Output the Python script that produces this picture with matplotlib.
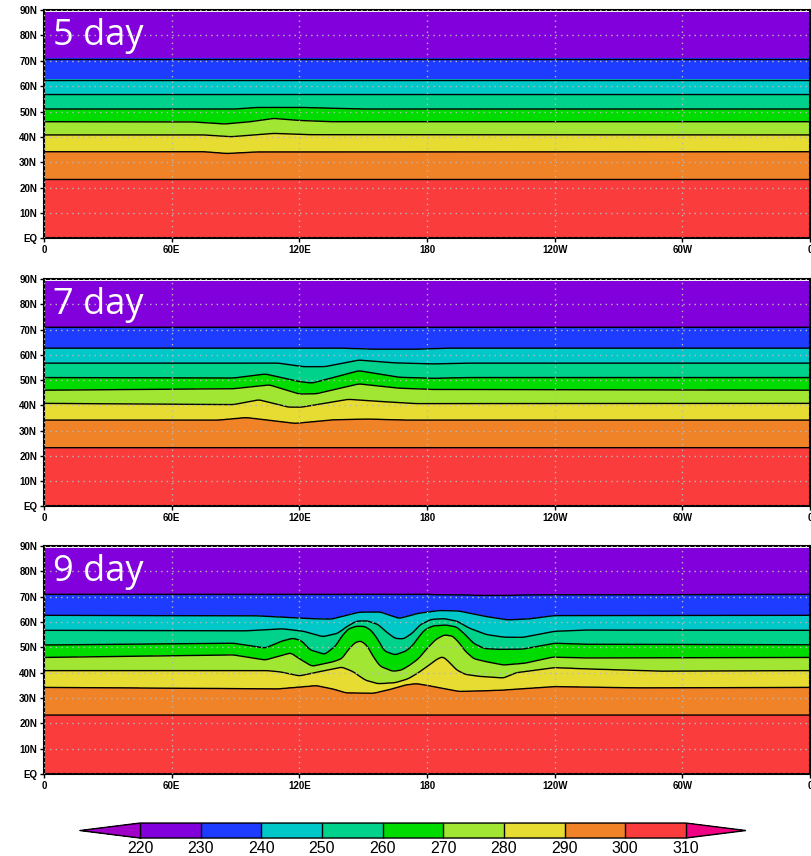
import numpy as np
import matplotlib
matplotlib.use("Agg")
import matplotlib.pyplot as plt
from matplotlib.colors import ListedColormap, BoundaryNorm

# contour levels drawn as lines, and their zonal-mean latitude where flat
line_levels = [230, 240, 250, 260, 270, 280, 290, 300]
base_lat = [70.8, 62.6, 56.7, 51.0, 46.0, 40.8, 34.2, 23.3]

# colour bands (220..310 step 10) + under / over
fill_levels = [220, 230, 240, 250, 260, 270, 280, 290, 300, 310]
fill_colors = ['#8200DC', '#1E3CFF', '#00C8C8', '#00D28C', '#00DC00',
               '#A0E632', '#E6DC32', '#F08228', '#FA3C3C']
under_color = '#A000C8'
over_color = '#F00082'

panel_titles = ['5 day', '7 day', '9 day']
lon_ticks = [0, 60, 120, 180, 240, 300, 360]
lon_labels = ['0', '60E', '120E', '180', '120W', '60W', '0']
lat_ticks = [0, 10, 20, 30, 40, 50, 60, 70, 80, 90]
lat_labels = ['EQ', '10N', '20N', '30N', '40N', '50N', '60N', '70N', '80N', '90N']

# (lon, lat) of a contour line where it departs from the flat position
d5_260 = [(0, 51.0), (90, 51.0), (100, 51.6), (122, 51.6), (140, 51.2), (150, 51.0), (360, 51.0)]
d5_270 = [(0, 46.0), (70, 45.9), (85, 45.1), (97, 46.0), (108, 47.3), (120, 46.5), (135, 46.0), (360, 46.0)]
d5_280 = [(0, 40.8), (75, 40.8), (88, 40.1), (108, 41.4), (125, 40.9), (360, 40.8)]
d5_290 = [(0, 34.2), (75, 34.2), (86, 33.5), (100, 34.1), (360, 34.2)]

d7_240 = [(0, 62.6), (140, 62.6), (155, 62.2), (175, 62.2), (190, 62.6), (360, 62.6)]
d7_250 = [(0, 56.7), (110, 56.7), (122, 55.3), (132, 55.3), (148, 57.9), (165, 56.8), (183, 56.4), (200, 56.7), (360, 56.7)]
d7_260 = [(0, 51.0), (89, 50.8), (104, 52.4), (120, 49.4), (126, 48.8), (148, 53.7), (167, 51.1), (183, 50.7), (200, 51.0), (360, 51.0)]
d7_270 = [(0, 46.0), (89, 46.6), (106, 48.1), (120, 44.5), (128, 44.6), (148, 48.5), (167, 46.8), (183, 46.3), (360, 46.0)]
d7_280 = [(0, 40.8), (89, 40.3), (101, 42.2), (115, 39.3), (121, 39.3), (143, 42.4), (159, 41.5), (175, 40.7), (360, 40.8)]
d7_290 = [(0, 34.2), (82, 34.2), (95, 35.2), (118, 32.9), (136, 34.3), (152, 34.6), (170, 34.2), (360, 34.2)]

d9_230 = [(0, 70.8), (180, 70.8), (210, 70.4), (240, 70.7), (360, 70.8)]
d9_240 = [(0, 62.6), (100, 62.4), (125, 61.3), (135, 61.1), (148, 63.8), (158, 63.9), (167, 61.4), (176, 63.4),
          (186, 64.5), (195, 64.3), (208, 62.1), (218, 60.8), (228, 61.2), (240, 62.5), (360, 62.6)]
d9_250 = [(0, 56.7), (95, 56.5), (112, 57.3), (122, 56.3), (131, 54.2), (138, 55.5), (143, 58.5), (147, 60.3),
          (152, 60.4), (157, 59.0), (161, 56.0), (165, 53.5), (169, 53.3), (173, 55.5), (177, 59.0), (182, 61.0),
          (188, 61.3), (194, 60.3), (200, 57.5), (208, 55.0), (216, 54.0), (225, 53.9), (240, 56.3), (255, 56.8),
          (360, 56.7)]
d9_260 = [(0, 50.9), (89, 51.6), (104, 49.7), (112, 52.5), (117, 53.6), (121, 52.6), (125, 49.0), (132, 47.2),
          (137, 50.5), (140, 54.5), (143, 57.3), (147, 58.4), (151, 58.2), (154, 56.5), (157, 53.0), (160, 48.5),
          (165, 47.0), (170, 48.5), (173, 50.5), (176, 54.0), (179, 57.0), (183, 58.5), (189, 58.8), (194, 58.0),
          (198, 55.0), (202, 51.5), (207, 49.5), (214, 49.2), (225, 49.3), (240, 51.6), (255, 51.2), (360, 51.0)]
d9_270 = [(0, 46.0), (89, 47.0), (104, 45.0), (116, 47.8), (120, 45.5), (126, 42.5), (136, 44.3), (140, 45.5),
          (143, 49.0), (146, 51.8), (149, 52.6), (152, 50.5), (155, 46.0), (158, 42.5), (164, 40.5), (168, 41.0),
          (172, 43.0), (176, 45.5), (180, 49.5), (184, 53.0), (188, 54.9), (192, 54.5), (195, 52.0), (198, 48.5),
          (202, 45.5), (208, 44.3), (216, 43.0), (226, 43.7), (239, 46.1), (255, 45.8), (360, 46.0)]
d9_280 = [(0, 40.8), (105, 40.8), (111, 40.3), (120, 38.7), (130, 40.5), (140, 42.2), (145, 40.5), (151, 37.0),
          (157, 35.6), (165, 36.0), (171, 37.5), (176, 40.0), (181, 43.0), (185, 45.5), (187.5, 46.3), (190, 44.5),
          (194, 41.0), (198, 39.3), (205, 38.5), (216, 37.9), (222, 40.0), (240, 42.0), (255, 41.5), (290, 40.6),
          (360, 40.8)]
d9_290 = [(0, 34.2), (110, 33.6), (128, 34.9), (136, 33.5), (142, 32.0), (155, 31.9), (163, 33.5), (170, 35.2),
          (175, 35.7), (180, 35.0), (186, 34.0), (195, 32.6), (205, 32.8), (215, 33.1), (240, 34.5), (280, 34.0),
          (360, 34.2)]

panels = [
    {260: d5_260, 270: d5_270, 280: d5_280, 290: d5_290},
    {240: d7_240, 250: d7_250, 260: d7_260, 270: d7_270, 280: d7_280, 290: d7_290},
    {230: d9_230, 240: d9_240, 250: d9_250, 260: d9_260, 270: d9_270, 280: d9_280, 290: d9_290},
]

lon = np.arange(0, 360.01, 0.5)
lat = np.linspace(0, 89, 357)


def smooth(y, n=5):
    pad = n // 2
    yp = np.concatenate([y[-pad - 1:-1], y, y[1:pad + 1]])
    return np.convolve(yp, np.ones(n) / n, mode='valid')


def build_field(knots):
    rows = []
    for lev, base in zip(line_levels, base_lat):
        pts = knots.get(lev, [(0, base), (360, base)])
        x, y = zip(*pts)
        rows.append(smooth(np.interp(lon, x, y)))
    rows = np.array(rows)[::-1]          # 300 line first (lowest latitude)
    temps = np.array(line_levels[::-1], dtype=float)
    field = np.empty((lat.size, lon.size))
    for j in range(lon.size):
        ys = np.concatenate([[0.0], rows[:, j], [90.0]])
        ys = np.maximum.accumulate(ys + np.arange(ys.size) * 1e-3)
        ts = np.concatenate([[305.0], temps, [225.0]])
        field[:, j] = np.interp(lat, ys, ts)
    return field


cmap = ListedColormap(fill_colors)
cmap.set_under(under_color)
cmap.set_over(over_color)
norm = BoundaryNorm(fill_levels, cmap.N)

fig = plt.figure(figsize=(8.12, 8.56), dpi=100)
boxes = [[0.0542, 0.7214, 0.9433, 0.2669],
         [0.0542, 0.4083, 0.9433, 0.2658],
         [0.0542, 0.0958, 0.9433, 0.2664]]

cf = None
for box, knots, title in zip(boxes, panels, panel_titles):
    ax = fig.add_axes(box)
    T = build_field(knots)
    cf = ax.contourf(lon, lat, T, levels=fill_levels, cmap=cmap, norm=norm, extend='both')
    ax.contour(lon, lat, T, levels=line_levels, colors='black', linewidths=1.0)
    ax.set_xlim(0, 360)
    ax.set_ylim(0, 90)
    ax.set_xticks(lon_ticks)
    ax.set_xticklabels(lon_labels)
    ax.set_yticks(lat_ticks)
    ax.set_yticklabels(lat_labels)
    ax.tick_params(direction='out', length=3, width=1, pad=2, labelsize=7)
    for lab in ax.get_xticklabels() + ax.get_yticklabels():
        lab.set_fontfamily('Liberation Sans')
        lab.set_fontweight('bold')
    ax.set_axisbelow(False)
    ax.grid(True, color='#b8b8b8', linestyle=(0, (1, 3)), linewidth=1.0)
    for sp in ax.spines.values():
        sp.set_linewidth(1.5)
    ax.text(0.012, 0.845, title, transform=ax.transAxes, color='white',
            fontsize=26, fontfamily='Open Sans', va='baseline', ha='left')

# colour bar axes spans tip to tip of the triangles
cax = fig.add_axes([0.0985, 0.021, 0.820, 0.0175])
cb = fig.colorbar(cf, cax=cax, orientation='horizontal', extendfrac=0.11,
                  ticks=fill_levels, drawedges=True)
cb.outline.set_linewidth(1.0)
cb.dividers.set_linewidth(1.0)
cax.tick_params(length=0, pad=2, labelsize=11.5)
for lab in cax.get_xticklabels():
    lab.set_fontfamily('Liberation Sans')

fig.savefig('out.png', dpi=100)
